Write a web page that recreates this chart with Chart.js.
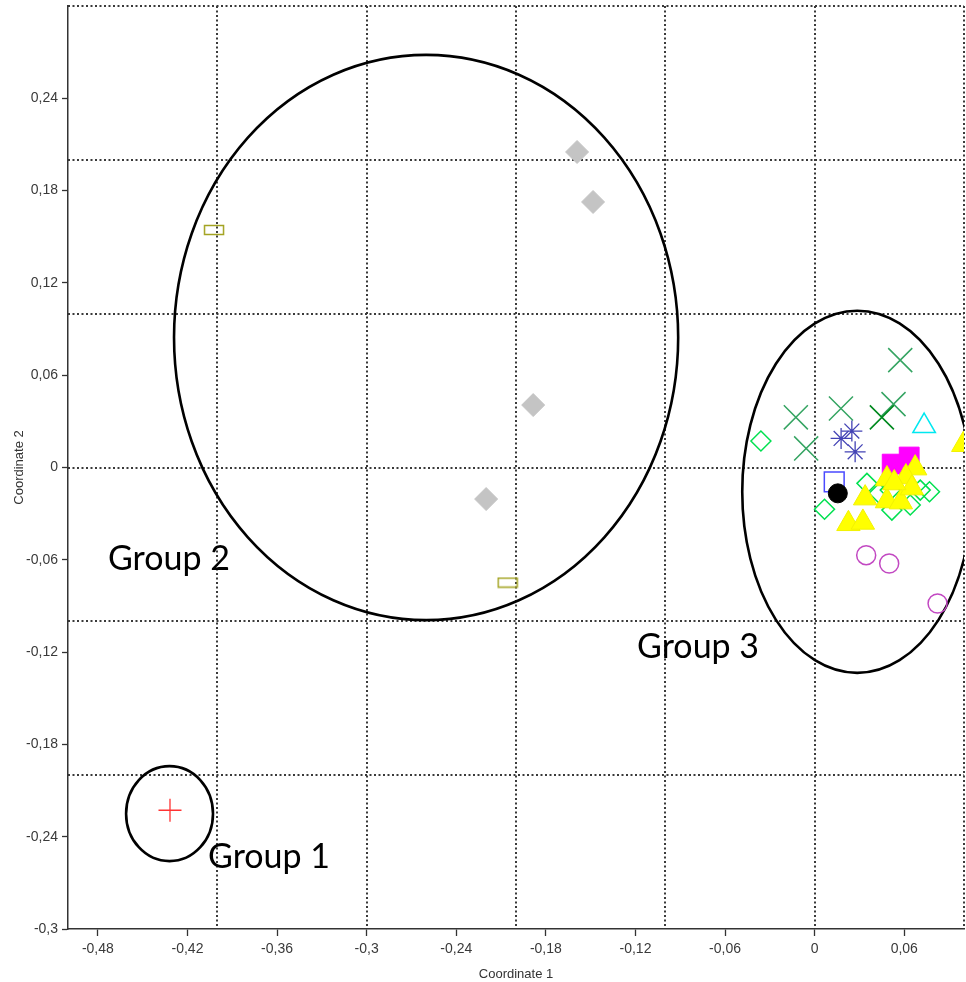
<!DOCTYPE html>
<html>
<head>
<meta charset="utf-8">
<script src="https://cdn.jsdelivr.net/npm/chart.js@4.4.1/dist/chart.umd.min.js"></script>
<style>
  body { margin: 0; background: #fff; }
  #wrap { width: 966px; height: 982px; }
</style>
</head>
<body>
<div id="wrap"><canvas id="chart" width="966" height="982"></canvas></div>
<script>
// axis ticks (labels use a decimal comma, like the original)
const xTicks = [-0.48, -0.42, -0.36, -0.3, -0.24, -0.18, -0.12, -0.06, 0, 0.06];
const xTickLabels = ['-0,48', '-0,42', '-0,36', '-0,3', '-0,24', '-0,18', '-0,12', '-0,06', '0', '0,06'];
const yTicks = [-0.3, -0.24, -0.18, -0.12, -0.06, 0, 0.06, 0.12, 0.18, 0.24];
const yTickLabels = ['-0,3', '-0,24', '-0,18', '-0,12', '-0,06', '0', '0,06', '0,12', '0,18', '0,24'];
const xGrid = [-0.4, -0.3, -0.2, -0.1, 0, 0.1];
const yGrid = [-0.2, -0.1, 0, 0.1, 0.2, 0.3];

// points, one pair of arrays per marker type
const yellowTriX = [0.0338, 0.0484, 0.0673, 0.0611, 0.0484, 0.0577, 0.0651, 0.0226, 0.0323, 0.0995, 0.0533];
const yellowTriY = [-0.0199, -0.0075, -0.0004, -0.0062, -0.0218, -0.0225, -0.0134, -0.0366, -0.0357, 0.0148, -0.0101];
const blackDotX = [0.0155];
const blackDotY = [-0.0168];
const blueSquareX = [0.0131];
const blueSquareY = [-0.0093];
const magentaSquareX = [0.0519, 0.0633];
const magentaSquareY = [0.0022, 0.0068];
const greenDiamondX = [-0.036, 0.035, 0.0066, 0.0769, 0.0517, 0.064, 0.0707, 0.0506, 0.0432];
const greenDiamondY = [0.0172, -0.0103, -0.0271, -0.0158, -0.0277, -0.0244, -0.0147, -0.0147, -0.0167];
const cyanTriX = [0.0733];
const cyanTriY = [0.0269];
const blueStarX = [0.0177, 0.0249, 0.0271];
const blueStarY = [0.0189, 0.0237, 0.0102];
const darkGreenCrossX = [0.045];
const darkGreenCrossY = [0.0326];
const greenCrossX = [0.0573, -0.0126, 0.0176, 0.0528, -0.0057];
const greenCrossY = [0.0698, 0.0326, 0.0384, 0.0412, 0.0124];
const pinkCircleX = [0.0345, 0.0499, 0.0823];
const pinkCircleY = [-0.057, -0.0624, -0.0884];
const grayDiamondX = [-0.1591, -0.1484, -0.1885, -0.22];
const grayDiamondY = [0.2051, 0.1726, 0.0406, -0.0205];
const oliveRectX = [-0.4022, -0.2056];
const oliveRectY = [0.1544, -0.0748];
const redPlusX = [-0.4317];
const redPlusY = [-0.2228];

// group ellipses (centre and half axes in data units) and their captions
const groupNames = ['Group 1', 'Group 2', 'Group 3'];
const ellipseCx = [-0.432, -0.2602, 0.0285];
const ellipseCy = [-0.225, 0.0845, -0.0158];
const ellipseRx = [0.0291, 0.1688, 0.077];
const ellipseRy = [0.0309, 0.1837, 0.1177];
const captionX = [-0.4062, -0.4732, -0.1189];
const captionY = [-0.2605, -0.0667, -0.1239];

function pts(xs, ys) {
    return xs.map((v, i) => ({ x: v, y: ys[i] }));
}

// small flat rectangle marker (no built-in style for it)
const flatRect = document.createElement('canvas');
flatRect.width = 22;
flatRect.height = 12;
(function() {
    const c = flatRect.getContext('2d');
    c.strokeStyle = '#a3a321';
    c.lineWidth = 1.5;
    c.strokeRect(1.5, 1.5, 19, 9);
})();

const none = 'rgba(0,0,0,0)';
function series(data, style, radius, fill, stroke, width) {
    return {
        data: data,
        pointStyle: style,
        pointRadius: radius,
        pointBackgroundColor: fill,
        pointBorderColor: stroke,
        pointBorderWidth: width
    };
}

// first dataset is drawn on top
const datasets = [
    series(pts(yellowTriX, yellowTriY), 'triangle', 13.5, '#ffff00', '#f2f200', 1),
    series(pts(blackDotX, blackDotY), 'circle', 9.5, '#000', '#000', 1),
    series(pts(blueSquareX, blueSquareY), 'rect', 14, none, '#4a4aff', 1.5),
    series(pts(magentaSquareX, magentaSquareY), 'rect', 14, '#ff00ff', '#ff00ff', 1),
    series(pts(greenDiamondX, greenDiamondY), 'rectRot', 10, none, '#00e050', 1.5),
    series(pts(cyanTriX, cyanTriY), 'triangle', 13, none, '#00e8f0', 1.5),
    series(pts(blueStarX, blueStarY), 'star', 10.5, none, '#4343b5', 1.3),
    series(pts(darkGreenCrossX, darkGreenCrossY), 'crossRot', 17, none, '#00891f', 1.6),
    series(pts(greenCrossX, greenCrossY), 'crossRot', 17, none, '#35a462', 1.5),
    series(pts(pinkCircleX, pinkCircleY), 'circle', 9.5, none, '#c248c2', 1.5),
    series(pts(grayDiamondX, grayDiamondY), 'rectRot', 11.5, '#c4c4c4', '#c4c4c4', 1),
    series(pts(oliveRectX, oliveRectY), flatRect, 6, none, none, 0),
    series(pts(redPlusX, redPlusY), 'cross', 11.5, none, '#ff3333', 1.3)
];

const groupsPlugin = {
    id: 'groups',
    beforeDatasetsDraw(chart) {
        const { ctx, chartArea, scales } = chart;
        ctx.save();
        ctx.beginPath();
        ctx.rect(chartArea.left, chartArea.top, chartArea.width, chartArea.height);
        ctx.clip();
        ctx.strokeStyle = '#000';
        ctx.lineWidth = 2.6;
        groupNames.forEach((name, i) => {
            const cx = scales.x.getPixelForValue(ellipseCx[i]);
            const cy = scales.y.getPixelForValue(ellipseCy[i]);
            const rx = Math.abs(scales.x.getPixelForValue(ellipseCx[i] + ellipseRx[i]) - cx);
            const ry = Math.abs(scales.y.getPixelForValue(ellipseCy[i] + ellipseRy[i]) - cy);
            ctx.beginPath();
            ctx.ellipse(cx, cy, rx, ry, 0, 0, Math.PI * 2);
            ctx.stroke();
        });
        ctx.restore();
    },
    afterDatasetsDraw(chart) {
        const { ctx, scales } = chart;
        ctx.save();
        ctx.fillStyle = '#000';
        ctx.font = '34px Lato';
        ctx.textAlign = 'left';
        ctx.textBaseline = 'alphabetic';
        groupNames.forEach((name, i) => {
            ctx.fillText(name, scales.x.getPixelForValue(captionX[i]), scales.y.getPixelForValue(captionY[i]));
        });
        ctx.restore();
    }
};

// fixed axis boxes, no extra room for overhanging labels
function fixBox(size) {
    return s => {
        if (s.isHorizontal()) s.height = size; else s.width = size;
        s.paddingLeft = 0;
        s.paddingRight = 0;
        s.paddingTop = 0;
        s.paddingBottom = 0;
    };
}

const tickFont = { family: 'Liberation Sans', size: 14 };

new Chart(document.getElementById('chart'), {
    type: 'scatter',
    data: { datasets: datasets },
    plugins: [groupsPlugin],
    options: {
        responsive: false,
        animation: false,
        events: [],
        layout: { autoPadding: false, padding: { top: 6, right: 2, left: 0, bottom: 0 } },
        plugins: { legend: { display: false }, tooltip: { enabled: false } },
        scales: {
            x: {
                type: 'linear',
                min: -0.5,
                max: 0.1,
                afterBuildTicks: s => { s.ticks = xTicks.map(v => ({ value: v })); },
                afterFit: fixBox(53),
                ticks: {
                    callback: (v, i) => xTickLabels[i],
                    font: tickFont,
                    color: '#3a3a3a',
                    padding: 5,
                    maxRotation: 0
                },
                grid: { drawOnChartArea: false, drawTicks: true, tickLength: 7, tickColor: '#333', tickWidth: 1.3 },
                border: { display: true, color: '#333', width: 1.5 },
                title: {
                    display: true,
                    text: 'Coordinate 1',
                    font: { family: 'Liberation Sans', size: 13 },
                    color: '#333',
                    padding: { top: 0, bottom: 0 }
                }
            },
            y: {
                type: 'linear',
                min: -0.3,
                max: 0.3,
                afterBuildTicks: s => { s.ticks = yTicks.map(v => ({ value: v })); },
                afterFit: fixBox(68),
                ticks: {
                    callback: (v, i) => yTickLabels[i],
                    font: tickFont,
                    color: '#3a3a3a',
                    padding: 4
                },
                grid: { drawOnChartArea: false, drawTicks: true, tickLength: 6, tickColor: '#333', tickWidth: 1.3 },
                border: { display: true, color: '#333', width: 1.5 },
                title: {
                    display: true,
                    text: 'Coordinate 2',
                    font: { family: 'Liberation Sans', size: 13 },
                    color: '#333',
                    padding: { top: 12, bottom: 0 }
                }
            },
            x2: {
                type: 'linear',
                position: 'top',
                min: -0.5,
                max: 0.1,
                afterBuildTicks: s => { s.ticks = xGrid.map(v => ({ value: v })); },
                afterFit: fixBox(0),
                ticks: { display: false },
                grid: { color: '#3a3a3a', lineWidth: 2, drawTicks: false },
                border: { display: false, dash: [2, 2.5] }
            },
            y2: {
                type: 'linear',
                position: 'right',
                min: -0.3,
                max: 0.3,
                afterBuildTicks: s => { s.ticks = yGrid.map(v => ({ value: v })); },
                afterFit: fixBox(0),
                ticks: { display: false },
                grid: { color: '#3a3a3a', lineWidth: 2, drawTicks: false },
                border: { display: false, dash: [2, 2.5] }
            }
        }
    }
});
</script>
</body>
</html>
